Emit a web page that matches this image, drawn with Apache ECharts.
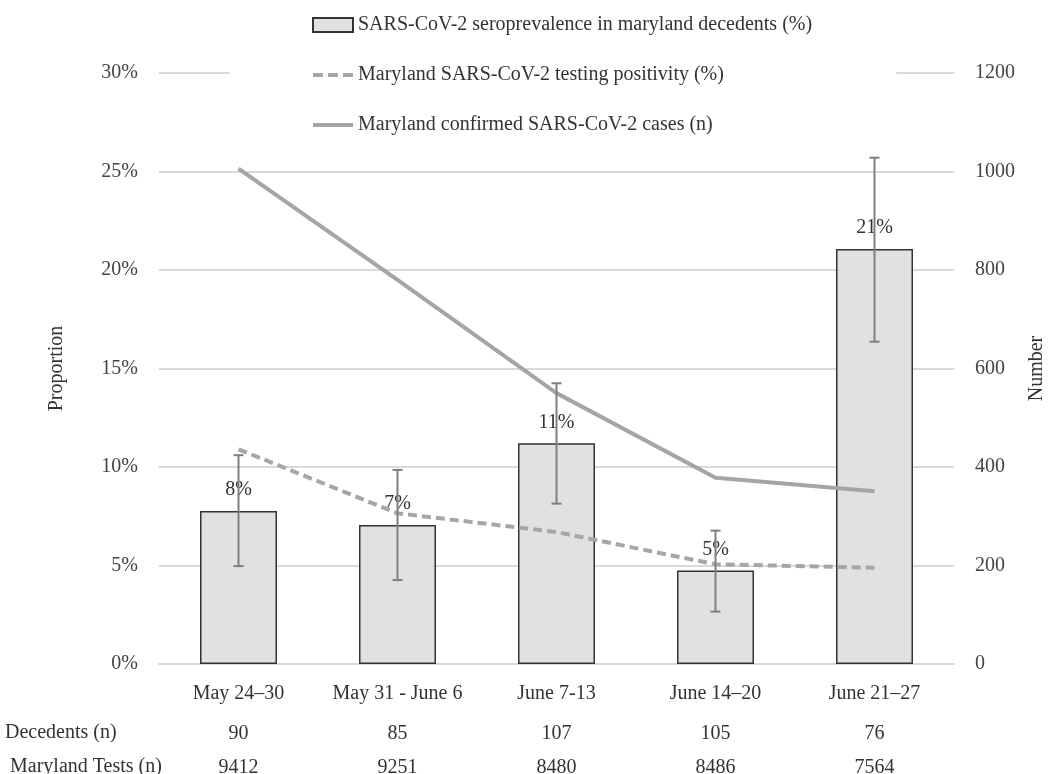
<!DOCTYPE html>
<html>
<head>
<meta charset="utf-8">
<script src="https://cdn.jsdelivr.net/npm/echarts@6/dist/echarts.min.js"></script>
<style>html,body{margin:0;padding:0;background:#fff;}#c{width:1049px;height:774px;}</style>
</head>
<body>
<div id="c"></div>
<script>
var categories = ['May 24\u201330', 'May 31 - June 6', 'June 7-13', 'June 14\u201320', 'June 21\u201327'];
var seroprevalence = [7.77, 7.06, 11.2, 4.74, 21.07];
var errLow = [4.97, 4.26, 8.14, 2.66, 16.36];
var errHigh = [10.6, 9.85, 14.25, 6.77, 25.7];
var positivity = [10.9, 7.65, 6.7, 5.06, 4.89];
var cases = [1006, 780, 550, 378, 351];
var decedents = ['90', '85', '107', '105', '76'];
var tests = ['9412', '9251', '8480', '8486', '7564'];
var leftTicks = { min: 0, max: 30, interval: 5 };
var rightTicks = { min: 0, max: 1200, interval: 200 };

var FONT = 'Liberation Serif';
var FS = 20;
var TXT = '#333';
var chart = echarts.init(document.getElementById('c'), null, { renderer: 'canvas' });

var errData = categories.map(function (c, i) { return [i, errLow[i], errHigh[i]]; });

// legend icons (40x14 bounding box, with invisible corner specks to keep scale)
var specks = 'M0,0h0.01v0.01h-0.01z M39.99,13.99h0.01v0.01h-0.01z ';
var dashIcon = 'path://' + specks + 'M0,5h10v4h-10z M15,5h10v4h-10z M30,5h10v4h-10z';
var solidIcon = 'path://' + specks + 'M0,5h40v4h-40z';

function catLabel() {
  return { margin: 20, interval: 0, hideOverlap: false, fontFamily: FONT, fontSize: FS, color: TXT };
}

chart.setOption({
  animation: false,
  textStyle: { fontFamily: FONT, color: TXT },
  grid: { left: 159, right: 95, top: 73, bottom: 110, containLabel: false, outerBoundsMode: 'none' },
  legend: {
    orient: 'vertical',
    left: 230,
    top: 7,
    padding: [8, 84, 8, 82],
    backgroundColor: '#fff',
    itemWidth: 40,
    itemHeight: 14,
    itemGap: 30,
    textStyle: { fontFamily: FONT, fontSize: FS, color: TXT },
    data: [
      { name: 'SARS-CoV-2 seroprevalence in maryland decedents (%)', icon: 'rect' },
      { name: 'Maryland SARS-CoV-2 testing positivity (%)', icon: dashIcon, itemStyle: { color: '#a6a6a8', borderWidth: 0 } },
      { name: 'Maryland confirmed SARS-CoV-2 cases (n)', icon: solidIcon, itemStyle: { color: '#a5a5a7', borderWidth: 0 } }
    ]
  },
  xAxis: [
    {
      type: 'category', data: categories, position: 'bottom',
      axisLine: { lineStyle: { color: '#d9d9d9', width: 2 } },
      axisTick: { show: false },
      axisLabel: catLabel()
    },
    {
      type: 'category', data: decedents, position: 'bottom', offset: 40,
      axisLine: { show: false }, axisTick: { show: false },
      axisLabel: catLabel()
    },
    {
      type: 'category', data: tests, position: 'bottom', offset: 74,
      axisLine: { show: false }, axisTick: { show: false },
      axisLabel: catLabel()
    }
  ],
  yAxis: [
    {
      type: 'value', min: leftTicks.min, max: leftTicks.max, interval: leftTicks.interval,
      name: 'Proportion', nameLocation: 'middle', nameRotate: 90, nameGap: 92,
      nameTextStyle: { fontFamily: FONT, fontSize: FS, color: TXT },
      axisLine: { show: false }, axisTick: { show: false },
      axisLabel: { margin: 21, formatter: '{value}%', fontFamily: FONT, fontSize: FS, color: '#444' },
      splitLine: { lineStyle: { color: '#d9d9d9', width: 2 } }
    },
    {
      type: 'value', min: rightTicks.min, max: rightTicks.max, interval: rightTicks.interval,
      name: 'Number', nameLocation: 'middle', nameRotate: 90, nameGap: 73,
      nameTextStyle: { fontFamily: FONT, fontSize: FS, color: TXT },
      axisLine: { show: false }, axisTick: { show: false },
      axisLabel: { margin: 21, formatter: function (v) { return String(v); }, fontFamily: FONT, fontSize: FS, color: '#444' },
      splitLine: { show: false }
    }
  ],
  graphic: [
    { type: 'text', left: 5, top: 723, style: { text: 'Decedents (n)', font: FS + 'px "Liberation Serif"', fill: TXT } },
    { type: 'text', left: 10, top: 757, style: { text: 'Maryland Tests (n)', font: FS + 'px "Liberation Serif"', fill: TXT } }
  ],
  series: [
    {
      name: 'SARS-CoV-2 seroprevalence in maryland decedents (%)',
      type: 'bar', data: seroprevalence, xAxisIndex: 0, yAxisIndex: 0,
      barWidth: 77,
      itemStyle: { color: '#e0e1e3', borderColor: '#333', borderWidth: 1.5 },
      label: {
        show: true, position: 'top', distance: 11,
        formatter: function (p) { return Math.round(p.value) + '%'; },
        fontFamily: FONT, fontSize: FS, color: TXT
      },
      z: 2
    },
    {
      name: 'Maryland SARS-CoV-2 testing positivity (%)',
      type: 'line', data: positivity, xAxisIndex: 0, yAxisIndex: 0,
      symbol: 'none', showSymbol: false,
      lineStyle: { color: '#a6a6a8', width: 4, type: [9, 5] },
      itemStyle: { color: '#a6a6a8' },
      z: 4
    },
    {
      name: 'Maryland confirmed SARS-CoV-2 cases (n)',
      type: 'line', data: cases, xAxisIndex: 0, yAxisIndex: 1,
      symbol: 'none', showSymbol: false,
      lineStyle: { color: '#a5a5a7', width: 4 },
      itemStyle: { color: '#a5a5a7' },
      z: 4
    },
    {
      name: 'err', type: 'custom', xAxisIndex: 0, yAxisIndex: 0, data: errData, z: 5,
      renderItem: function (params, api) {
        var x = api.value(0);
        var lo = api.coord([x, api.value(1)]);
        var hi = api.coord([x, api.value(2)]);
        var cap = 5;
        var st = { stroke: '#7f7f7f', lineWidth: 2 };
        return {
          type: 'group',
          children: [
            { type: 'line', shape: { x1: lo[0], y1: lo[1], x2: hi[0], y2: hi[1] }, style: st },
            { type: 'line', shape: { x1: lo[0] - cap, y1: lo[1], x2: lo[0] + cap, y2: lo[1] }, style: st },
            { type: 'line', shape: { x1: hi[0] - cap, y1: hi[1], x2: hi[0] + cap, y2: hi[1] }, style: st }
          ]
        };
      }
    }
  ]
});
</script>
</body>
</html>
